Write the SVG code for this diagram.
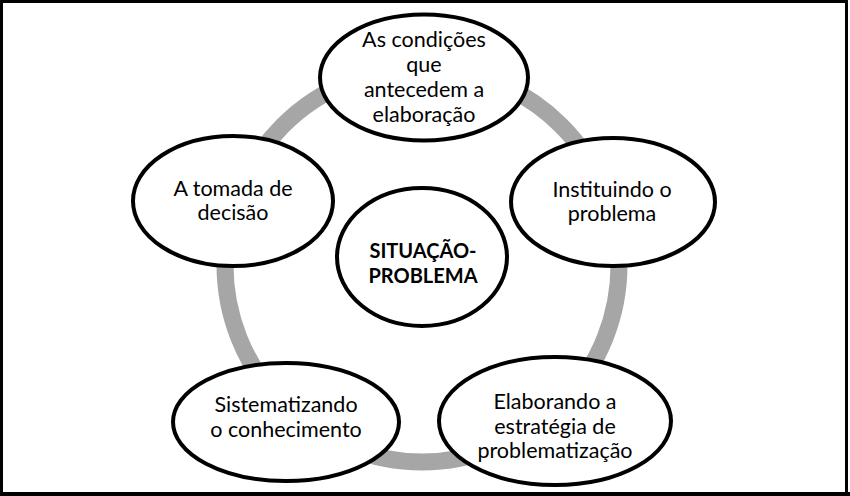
<svg xmlns="http://www.w3.org/2000/svg" width="850" height="496" viewBox="0 0 850 496">
<style>
.node{fill:#fff;stroke:#000;stroke-width:4}
.t{font-family:Lato,"Open Sans","Liberation Sans",sans-serif;font-size:21.5px;fill:#000;text-anchor:middle}
.b{font-weight:bold;font-size:20px}
.ring{fill:none;stroke:#a6a6a6;stroke-width:17}
</style>
<rect x="0" y="0" width="850" height="496" fill="#fff"/>
<g id="connectors">
<circle class="ring" cx="422" cy="265" r="197"/>
</g>
<g id="node-center">
<ellipse class="node" cx="422" cy="257" rx="85" ry="69"/>
<text class="t b" x="423" y="258">SITUAÇÃO-</text>
<text class="t b" x="423" y="283">PROBLEMA</text>
</g>
<g id="node-top">
<ellipse class="node" cx="424" cy="77.5" rx="104" ry="63"/>
<text class="t" x="424" y="47">As condições</text>
<text class="t" x="424" y="72">que</text>
<text class="t" x="424" y="97">antecedem a</text>
<text class="t" x="424" y="122">elaboração</text>
</g>
<g id="node-right">
<ellipse class="node" cx="613" cy="202" rx="102" ry="64"/>
<text class="t" x="612" y="197">Instituindo o</text>
<text class="t" x="612" y="221">problema</text>
</g>
<g id="node-bottom-right">
<ellipse class="node" cx="555" cy="421" rx="116" ry="64"/>
<text class="t" x="555" y="409">Elaborando a</text>
<text class="t" x="555" y="434">estratégia de</text>
<text class="t" x="555" y="458">problematização</text>
</g>
<g id="node-bottom-left">
<ellipse class="node" cx="286" cy="422" rx="113" ry="59"/>
<text class="t" x="286" y="412">Sistematizando</text>
<text class="t" x="286" y="437">o conhecimento</text>
</g>
<g id="node-left">
<ellipse class="node" cx="233" cy="201" rx="100" ry="65"/>
<text class="t" x="233" y="196">A tomada de</text>
<text class="t" x="233" y="220">decisão</text>
</g>
<path d="M1.5 1.5H846.5V493.5H1.5Z" fill="none" stroke="#000" stroke-width="3"/>
<path d="M0 494H850" stroke="#000" stroke-width="4"/>
</svg>
